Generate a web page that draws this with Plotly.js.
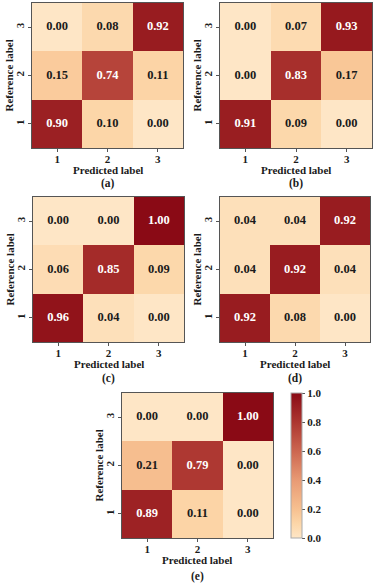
<!DOCTYPE html>
<html>
<head>
<meta charset="utf-8">
<script src="https://cdn.plot.ly/plotly-3.0.1.min.js"></script>
<style>html,body{margin:0;padding:0;background:#fff}#chart{width:375px;height:584px}</style>
</head>
<body>
<div id="chart"></div>
<script>
var labels = ['1', '2', '3'];
var panelNames = ['(a)', '(b)', '(c)', '(d)', '(e)'];
// rows: reference label 1,2,3 ; columns: predicted label 1,2,3
var matrixA = [[0.90, 0.10, 0.00], [0.15, 0.74, 0.11], [0.00, 0.08, 0.92]];
var matrixB = [[0.91, 0.09, 0.00], [0.00, 0.83, 0.17], [0.00, 0.07, 0.93]];
var matrixC = [[0.96, 0.04, 0.00], [0.06, 0.85, 0.09], [0.00, 0.00, 1.00]];
var matrixD = [[0.92, 0.08, 0.00], [0.04, 0.92, 0.04], [0.04, 0.04, 0.92]];
var matrixE = [[0.89, 0.11, 0.00], [0.21, 0.79, 0.00], [0.00, 0.00, 1.00]];
var matrices = [matrixA, matrixB, matrixC, matrixD, matrixE];
var cbTicks = [0.0, 0.2, 0.4, 0.6, 0.8, 1.0];
var xTitle = 'Predicted label';
var yTitle = 'Reference label';

var FONT = 'Liberation Serif';
var colorscale = [
  [0.0, '#fee6c6'], [0.1, '#fcd6a8'], [0.2, '#f7c090'], [0.4, '#e89a74'],
  [0.6, '#cc6650'], [0.8, '#ac3630'], [1.0, '#8a0a15']
];

// pixel layout of each panel
var W = 375, H = 584;
var boxes = [
  [32, 183, 3, 148],
  [220, 372, 3, 148],
  [33, 184, 197, 342],
  [220, 370, 197, 342],
  [122, 273, 393, 538]
];

function f(size) { return {family: FONT, size: size, color: '#1a1a1a', weight: 700}; }

var data = [];
var layout = {
  width: W, height: H,
  margin: {l: 0, r: 0, t: 0, b: 0},
  paper_bgcolor: '#fff', plot_bgcolor: '#fff',
  showlegend: false,
  font: f(11),
  annotations: []
};

matrices.forEach(function (m, i) {
  var n = i === 0 ? '' : String(i + 1);
  var xa = 'x' + n, ya = 'y' + n;
  var b = boxes[i];
  data.push({
    type: 'heatmap', x: labels, y: labels, z: m,
    xaxis: xa, yaxis: ya,
    zmin: 0, zmax: 1, colorscale: colorscale,
    showscale: i === 4,
    colorbar: {
      x: 291 / W, xanchor: 'left', y: 1 - 465.5 / H, yanchor: 'middle',
      thickness: 11, len: 145, lenmode: 'pixels', xpad: 0, ypad: 0,
      outlinewidth: 1, outlinecolor: '#aaa',
      tickvals: cbTicks, ticktext: cbTicks.map(function (v) { return v.toFixed(1); }),
      ticks: 'outside', ticklen: 3, tickcolor: '#555',
      tickfont: f(11)
    },
    hoverinfo: 'skip'
  });
  var tx = [], ty = [], tt = [], tc = [];
  m.forEach(function (row, r) {
    row.forEach(function (v, c) {
      tx.push(labels[c]); ty.push(labels[r]); tt.push(v.toFixed(2));
      tc.push(v > 0.5 ? '#ffffff' : '#1a1a1a');
    });
  });
  data.push({
    type: 'scatter', mode: 'text', x: tx, y: ty, text: tt,
    xaxis: xa, yaxis: ya,
    textfont: {family: FONT, size: 12.5, color: tc, weight: 700},
    hoverinfo: 'skip'
  });
  var axBase = {
    type: 'category', showgrid: false, zeroline: false,
    showline: true, mirror: true, linecolor: '#555', linewidth: 1,
    ticks: 'outside', ticklen: 3, tickcolor: '#555',
    tickfont: f(11),
    automargin: false, fixedrange: true
  };
  layout['xaxis' + n] = Object.assign({}, axBase, {
    anchor: ya, domain: [b[0] / W, b[1] / W], ticklabelstandoff: -2
  });
  layout['yaxis' + n] = Object.assign({}, axBase, {
    anchor: xa, domain: [1 - b[3] / H, 1 - b[2] / H],
    tickangle: -90
  });
  var cx = (b[0] + b[1]) / 2 / W;
  layout.annotations.push({
    xref: 'paper', yref: 'paper', x: cx, y: 1 - (b[3] + 22) / H,
    xanchor: 'center', yanchor: 'middle', showarrow: false,
    text: xTitle, font: f(11)
  });
  layout.annotations.push({
    xref: 'paper', yref: 'paper', x: (b[0] - 24) / W, y: 1 - (b[2] + b[3]) / 2 / H,
    xanchor: 'center', yanchor: 'middle', showarrow: false, textangle: -90,
    text: yTitle, font: f(11)
  });
  layout.annotations.push({
    xref: 'paper', yref: 'paper', x: cx, y: 1 - (b[3] + (i === 4 ? 38 : 36)) / H,
    xanchor: 'center', yanchor: 'middle', showarrow: false,
    text: panelNames[i], font: f(11.5)
  });
});

Plotly.newPlot('chart', data, layout, {displayModeBar: false, staticPlot: true});
</script>
</body>
</html>
